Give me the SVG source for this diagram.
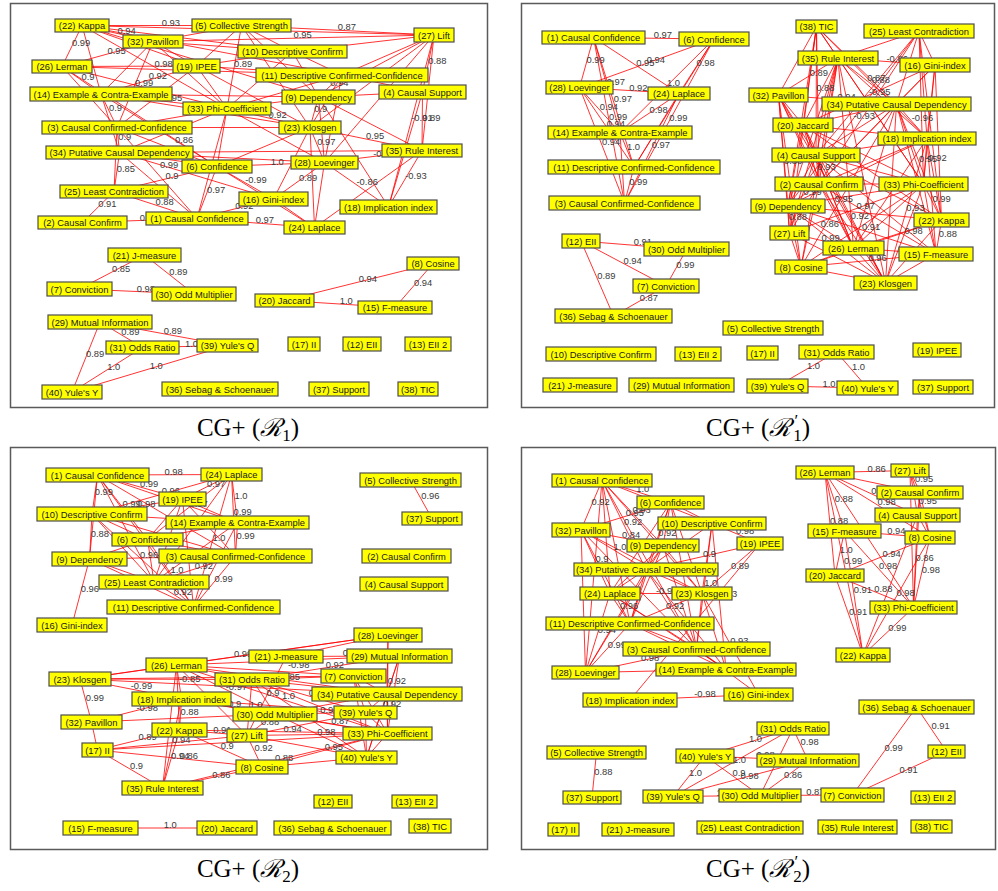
<svg xmlns="http://www.w3.org/2000/svg" width="998" height="891" viewBox="0 0 998 891">
<style>
.f{fill:none;stroke:#5a5a5a;stroke-width:1.5}
.n rect{fill:#ffff00;stroke:#4d4d4d;stroke-width:1.2}
.n text{font-family:"Liberation Sans",Arial,sans-serif;font-size:9.4px;fill:#1a1a1a;text-anchor:middle}
.e line{stroke:#ff0000;stroke-width:0.8}
.l text{font-family:"Liberation Sans",Arial,sans-serif;font-size:9.4px;fill:#3a3a3a}
.cap{font-family:"Liberation Serif","DejaVu Serif",serif;font-size:25px;fill:#000;text-anchor:middle}
</style>
<rect width="998" height="891" fill="#fff"/>
<rect class="f" x="10.5" y="3.5" width="477" height="404"/>
<rect class="f" x="521.5" y="3.5" width="473" height="404"/>
<rect class="f" x="10.5" y="447.5" width="477" height="402"/>
<rect class="f" x="521.5" y="447.5" width="474" height="402"/>

<g id="connectors">
<g id="p1-edges" class="e">
<line x1="82" y1="25.5" x2="241.5" y2="25.5"/><line x1="82" y1="25.5" x2="153" y2="41.5"/><line x1="82" y1="25.5" x2="62" y2="66.5"/><line x1="241.5" y1="25.5" x2="434" y2="35"/><line x1="153" y1="41.5" x2="434" y2="35"/><line x1="62" y1="66.5" x2="153" y2="41.5"/><line x1="434" y1="35" x2="422.5" y2="92"/><line x1="434" y1="35" x2="388.5" y2="207"/><line x1="422.5" y1="92" x2="422" y2="150.5"/><line x1="62" y1="66.5" x2="196.5" y2="66"/><line x1="62" y1="66.5" x2="101" y2="94"/><line x1="153" y1="41.5" x2="101" y2="94"/><line x1="101" y1="94" x2="117" y2="127.5"/><line x1="101" y1="94" x2="227" y2="108.5"/><line x1="101" y1="94" x2="196.5" y2="66"/><line x1="196.5" y1="66" x2="292.5" y2="51.5"/><line x1="292.5" y1="51.5" x2="227" y2="108.5"/><line x1="342" y1="75" x2="318.5" y2="97"/><line x1="318.5" y1="97" x2="310" y2="127.5"/><line x1="227" y1="108.5" x2="310" y2="127.5"/><line x1="227" y1="108.5" x2="119.5" y2="152.5"/><line x1="117" y1="127.5" x2="119.5" y2="152.5"/><line x1="310" y1="127.5" x2="422" y2="150.5"/><line x1="310" y1="127.5" x2="324.5" y2="162.5"/><line x1="119.5" y1="152.5" x2="217" y2="166.5"/><line x1="119.5" y1="152.5" x2="114" y2="191.5"/><line x1="422" y1="150.5" x2="324.5" y2="162.5"/><line x1="422" y1="150.5" x2="388.5" y2="207"/><line x1="217" y1="166.5" x2="324.5" y2="162.5"/><line x1="217" y1="166.5" x2="273.5" y2="199"/><line x1="217" y1="166.5" x2="197" y2="218.5"/><line x1="217" y1="166.5" x2="114" y2="191.5"/><line x1="324.5" y1="162.5" x2="388.5" y2="207"/><line x1="324.5" y1="162.5" x2="273.5" y2="199"/><line x1="273.5" y1="199" x2="197" y2="218.5"/><line x1="114" y1="191.5" x2="82.5" y2="222.5"/><line x1="114" y1="191.5" x2="197" y2="218.5"/><line x1="82.5" y1="222.5" x2="197" y2="218.5"/><line x1="197" y1="218.5" x2="314.5" y2="227.5"/>
<line x1="82" y1="25.5" x2="434" y2="35"/><line x1="82" y1="25.5" x2="196.5" y2="66"/><line x1="82" y1="25.5" x2="227" y2="108.5"/><line x1="82" y1="25.5" x2="318.5" y2="97"/><line x1="82" y1="25.5" x2="342" y2="75"/><line x1="82" y1="25.5" x2="101" y2="94"/><line x1="82" y1="25.5" x2="292.5" y2="51.5"/><line x1="241.5" y1="25.5" x2="153" y2="41.5"/><line x1="241.5" y1="25.5" x2="196.5" y2="66"/><line x1="241.5" y1="25.5" x2="318.5" y2="97"/><line x1="241.5" y1="25.5" x2="292.5" y2="51.5"/><line x1="241.5" y1="25.5" x2="310" y2="127.5"/><line x1="241.5" y1="25.5" x2="227" y2="108.5"/><line x1="434" y1="35" x2="342" y2="75"/><line x1="434" y1="35" x2="318.5" y2="97"/><line x1="434" y1="35" x2="292.5" y2="51.5"/><line x1="434" y1="35" x2="310" y2="127.5"/><line x1="434" y1="35" x2="422" y2="150.5"/><line x1="434" y1="35" x2="324.5" y2="162.5"/><line x1="422.5" y1="92" x2="342" y2="75"/><line x1="422.5" y1="92" x2="318.5" y2="97"/><line x1="62" y1="66.5" x2="117" y2="127.5"/><line x1="62" y1="66.5" x2="227" y2="108.5"/><line x1="62" y1="66.5" x2="342" y2="75"/><line x1="153" y1="41.5" x2="196.5" y2="66"/><line x1="153" y1="41.5" x2="117" y2="127.5"/><line x1="153" y1="41.5" x2="227" y2="108.5"/><line x1="153" y1="41.5" x2="292.5" y2="51.5"/><line x1="101" y1="94" x2="119.5" y2="152.5"/><line x1="101" y1="94" x2="310" y2="127.5"/><line x1="101" y1="94" x2="318.5" y2="97"/><line x1="196.5" y1="66" x2="227" y2="108.5"/><line x1="196.5" y1="66" x2="342" y2="75"/><line x1="196.5" y1="66" x2="117" y2="127.5"/><line x1="196.5" y1="66" x2="310" y2="127.5"/><line x1="292.5" y1="51.5" x2="342" y2="75"/><line x1="292.5" y1="51.5" x2="318.5" y2="97"/><line x1="342" y1="75" x2="227" y2="108.5"/><line x1="342" y1="75" x2="310" y2="127.5"/><line x1="342" y1="75" x2="324.5" y2="162.5"/><line x1="318.5" y1="97" x2="227" y2="108.5"/><line x1="318.5" y1="97" x2="324.5" y2="162.5"/><line x1="318.5" y1="97" x2="422" y2="150.5"/><line x1="227" y1="108.5" x2="117" y2="127.5"/><line x1="227" y1="108.5" x2="217" y2="166.5"/><line x1="227" y1="108.5" x2="324.5" y2="162.5"/><line x1="227" y1="108.5" x2="197" y2="218.5"/><line x1="117" y1="127.5" x2="310" y2="127.5"/><line x1="117" y1="127.5" x2="217" y2="166.5"/><line x1="117" y1="127.5" x2="114" y2="191.5"/><line x1="310" y1="127.5" x2="217" y2="166.5"/><line x1="310" y1="127.5" x2="273.5" y2="199"/><line x1="310" y1="127.5" x2="314.5" y2="227.5"/><line x1="119.5" y1="152.5" x2="422" y2="150.5"/><line x1="119.5" y1="152.5" x2="324.5" y2="162.5"/><line x1="119.5" y1="152.5" x2="197" y2="218.5"/><line x1="119.5" y1="152.5" x2="273.5" y2="199"/><line x1="422" y1="150.5" x2="314.5" y2="227.5"/><line x1="324.5" y1="162.5" x2="314.5" y2="227.5"/><line x1="273.5" y1="199" x2="314.5" y2="227.5"/><line x1="62" y1="66.5" x2="217" y2="166.5"/><line x1="101" y1="94" x2="217" y2="166.5"/><line x1="117" y1="127.5" x2="197" y2="218.5"/><line x1="217" y1="166.5" x2="314.5" y2="227.5"/><line x1="318.5" y1="97" x2="388.5" y2="207"/><line x1="422.5" y1="92" x2="388.5" y2="207"/>
<line x1="144.5" y1="255" x2="79.5" y2="289"/><line x1="144.5" y1="255" x2="194" y2="294"/><line x1="79.5" y1="289" x2="194" y2="294"/><line x1="433" y1="263.5" x2="284.5" y2="300.5"/><line x1="433" y1="263.5" x2="395" y2="307.5"/><line x1="284.5" y1="300.5" x2="395" y2="307.5"/><line x1="100" y1="322" x2="142.5" y2="347.5"/><line x1="100" y1="322" x2="227.5" y2="345.5"/><line x1="100" y1="322" x2="72" y2="392"/><line x1="142.5" y1="347.5" x2="227.5" y2="345.5"/><line x1="142.5" y1="347.5" x2="72" y2="392"/><line x1="227.5" y1="345.5" x2="72" y2="392"/>
</g>
<g id="p1-labels" class="l">
<text x="161.75" y="25.5">0.93</text><text x="117.5" y="33.5">0.94</text><text x="72" y="46">0.99</text><text x="337.75" y="30.25">0.87</text><text x="293.5" y="38.25">0.95</text><text x="107.5" y="54">0.95</text><text x="428.25" y="63.5">0.88</text><text x="411.25" y="121">-0.91</text><text x="422.25" y="121.25">0.89</text><text x="154.5" y="67">0.98</text><text x="81.5" y="80.25">0.9</text><text x="135" y="86">0.99</text><text x="109" y="110.75">0.9</text><text x="164" y="101.25">0.95</text><text x="148.75" y="79">0.92</text><text x="234" y="67">0.89</text><text x="330.25" y="86">0.94</text><text x="314.25" y="112.25">0.9</text><text x="268.5" y="118">0.92</text><text x="175" y="143">0.86</text><text x="118.25" y="140">0.9</text><text x="366" y="139">0.95</text><text x="317.25" y="145">0.97</text><text x="160" y="168">0.99</text><text x="116.75" y="172">0.85</text><text x="373.25" y="156.5">-0.88</text><text x="405.25" y="178.75">-0.93</text><text x="270.75" y="164.5">1.0</text><text x="245.25" y="182.75">-0.99</text><text x="207" y="192.5">0.97</text><text x="165.5" y="179">0.9</text><text x="356.5" y="184.75">-0.86</text><text x="299" y="180.75">0.89</text><text x="235.25" y="208.75">0.92</text><text x="98.25" y="207">0.91</text><text x="155.5" y="205">0.88</text><text x="139.75" y="220.5">0.91</text><text x="255.75" y="223">0.97</text>
<text x="112" y="272">0.85</text><text x="169.25" y="274.5">0.89</text><text x="136.75" y="291.5">0.98</text><text x="358.75" y="282">0.94</text><text x="414" y="285.5">0.94</text><text x="339.75" y="304">1.0</text><text x="121.25" y="334.75">0.89</text><text x="163.75" y="333.75">0.89</text><text x="86" y="357">0.89</text><text x="185" y="346.5">1.0</text><text x="107.25" y="369.75">1.0</text><text x="149.75" y="368.75">1.0</text>
</g>

<g id="p2-edges" class="e">
<line x1="593.5" y1="37.5" x2="714" y2="39"/><line x1="593.5" y1="37.5" x2="679" y2="93.5"/><line x1="579.5" y1="87.5" x2="714" y2="39"/><line x1="714" y1="39" x2="679" y2="93.5"/><line x1="714" y1="39" x2="620" y2="132.5"/><line x1="593.5" y1="37.5" x2="579.5" y2="87.5"/><line x1="593.5" y1="37.5" x2="620" y2="132.5"/><line x1="579.5" y1="87.5" x2="679" y2="93.5"/><line x1="593.5" y1="37.5" x2="634" y2="167"/><line x1="579.5" y1="87.5" x2="620" y2="132.5"/><line x1="593.5" y1="37.5" x2="624.5" y2="203"/><line x1="579.5" y1="87.5" x2="634" y2="167"/><line x1="679" y1="93.5" x2="620" y2="132.5"/><line x1="714" y1="39" x2="624.5" y2="203"/><line x1="679" y1="93.5" x2="624.5" y2="203"/><line x1="620" y1="132.5" x2="634" y2="167"/><line x1="579.5" y1="87.5" x2="624.5" y2="203"/><line x1="634" y1="167" x2="624.5" y2="203"/><line x1="679" y1="93.5" x2="634" y2="167"/><line x1="714" y1="39" x2="634" y2="167"/><line x1="620" y1="132.5" x2="624.5" y2="203"/>
<line x1="581" y1="241" x2="686.5" y2="249.5"/><line x1="581" y1="241" x2="666" y2="286"/><line x1="581" y1="241" x2="613.5" y2="316"/><line x1="686.5" y1="249.5" x2="666" y2="286"/><line x1="666" y1="286" x2="613.5" y2="316"/>
<line x1="836.5" y1="352" x2="777.5" y2="386"/><line x1="836.5" y1="352" x2="867.5" y2="388"/><line x1="777.5" y1="386" x2="867.5" y2="388"/>
<line x1="816.5" y1="26.5" x2="816" y2="155"/><line x1="816.5" y1="26.5" x2="803" y2="125"/><line x1="816.5" y1="26.5" x2="927" y2="138.5"/><line x1="919" y1="31" x2="788" y2="206"/><line x1="838" y1="58" x2="935" y2="65"/><line x1="838" y1="58" x2="896.5" y2="104"/><line x1="935" y1="65" x2="803" y2="125"/><line x1="778.5" y1="95" x2="896.5" y2="104"/><line x1="778.5" y1="95" x2="789.5" y2="233"/><line x1="896.5" y1="104" x2="927" y2="138.5"/><line x1="927" y1="138.5" x2="923.5" y2="184"/><line x1="927" y1="138.5" x2="885.5" y2="283"/><line x1="816" y1="155" x2="819" y2="184"/><line x1="816" y1="155" x2="853.5" y2="248"/><line x1="816" y1="155" x2="885.5" y2="283"/><line x1="819" y1="184" x2="788" y2="206"/><line x1="923.5" y1="184" x2="941.5" y2="220"/><line x1="923.5" y1="184" x2="789.5" y2="233"/><line x1="923.5" y1="184" x2="885.5" y2="283"/><line x1="788" y1="206" x2="853.5" y2="248"/><line x1="788" y1="206" x2="789.5" y2="233"/><line x1="788" y1="206" x2="936" y2="254"/><line x1="941.5" y1="220" x2="936" y2="254"/><line x1="789.5" y1="233" x2="853.5" y2="248"/><line x1="936" y1="254" x2="801" y2="267"/><line x1="896.5" y1="104" x2="941.5" y2="220"/>
<line x1="816.5" y1="26.5" x2="838" y2="58"/><line x1="816.5" y1="26.5" x2="778.5" y2="95"/><line x1="816.5" y1="26.5" x2="819" y2="184"/><line x1="816.5" y1="26.5" x2="788" y2="206"/><line x1="816.5" y1="26.5" x2="896.5" y2="104"/><line x1="816.5" y1="26.5" x2="923.5" y2="184"/><line x1="816.5" y1="26.5" x2="789.5" y2="233"/><line x1="919" y1="31" x2="838" y2="58"/><line x1="919" y1="31" x2="935" y2="65"/><line x1="919" y1="31" x2="896.5" y2="104"/><line x1="919" y1="31" x2="927" y2="138.5"/><line x1="919" y1="31" x2="923.5" y2="184"/><line x1="919" y1="31" x2="816" y2="155"/><line x1="919" y1="31" x2="819" y2="184"/><line x1="919" y1="31" x2="941.5" y2="220"/><line x1="838" y1="58" x2="778.5" y2="95"/><line x1="838" y1="58" x2="803" y2="125"/><line x1="838" y1="58" x2="816" y2="155"/><line x1="838" y1="58" x2="819" y2="184"/><line x1="838" y1="58" x2="923.5" y2="184"/><line x1="838" y1="58" x2="788" y2="206"/><line x1="838" y1="58" x2="789.5" y2="233"/><line x1="838" y1="58" x2="853.5" y2="248"/><line x1="838" y1="58" x2="885.5" y2="283"/><line x1="838" y1="58" x2="927" y2="138.5"/><line x1="838" y1="58" x2="801" y2="267"/><line x1="935" y1="65" x2="896.5" y2="104"/><line x1="935" y1="65" x2="927" y2="138.5"/><line x1="935" y1="65" x2="923.5" y2="184"/><line x1="935" y1="65" x2="941.5" y2="220"/><line x1="935" y1="65" x2="819" y2="184"/><line x1="778.5" y1="95" x2="803" y2="125"/><line x1="778.5" y1="95" x2="816" y2="155"/><line x1="778.5" y1="95" x2="819" y2="184"/><line x1="778.5" y1="95" x2="788" y2="206"/><line x1="778.5" y1="95" x2="801" y2="267"/><line x1="778.5" y1="95" x2="853.5" y2="248"/><line x1="778.5" y1="95" x2="885.5" y2="283"/><line x1="896.5" y1="104" x2="803" y2="125"/><line x1="896.5" y1="104" x2="816" y2="155"/><line x1="896.5" y1="104" x2="819" y2="184"/><line x1="896.5" y1="104" x2="923.5" y2="184"/><line x1="896.5" y1="104" x2="853.5" y2="248"/><line x1="896.5" y1="104" x2="885.5" y2="283"/><line x1="896.5" y1="104" x2="936" y2="254"/><line x1="896.5" y1="104" x2="801" y2="267"/><line x1="803" y1="125" x2="816" y2="155"/><line x1="803" y1="125" x2="819" y2="184"/><line x1="803" y1="125" x2="923.5" y2="184"/><line x1="803" y1="125" x2="788" y2="206"/><line x1="803" y1="125" x2="927" y2="138.5"/><line x1="803" y1="125" x2="853.5" y2="248"/><line x1="803" y1="125" x2="885.5" y2="283"/><line x1="803" y1="125" x2="941.5" y2="220"/><line x1="927" y1="138.5" x2="816" y2="155"/><line x1="927" y1="138.5" x2="819" y2="184"/><line x1="927" y1="138.5" x2="941.5" y2="220"/><line x1="927" y1="138.5" x2="936" y2="254"/><line x1="927" y1="138.5" x2="853.5" y2="248"/><line x1="927" y1="138.5" x2="788" y2="206"/><line x1="816" y1="155" x2="923.5" y2="184"/><line x1="816" y1="155" x2="788" y2="206"/><line x1="816" y1="155" x2="936" y2="254"/><line x1="816" y1="155" x2="789.5" y2="233"/><line x1="816" y1="155" x2="941.5" y2="220"/><line x1="819" y1="184" x2="923.5" y2="184"/><line x1="819" y1="184" x2="853.5" y2="248"/><line x1="819" y1="184" x2="885.5" y2="283"/><line x1="819" y1="184" x2="936" y2="254"/><line x1="819" y1="184" x2="801" y2="267"/><line x1="819" y1="184" x2="789.5" y2="233"/><line x1="923.5" y1="184" x2="853.5" y2="248"/><line x1="923.5" y1="184" x2="936" y2="254"/><line x1="923.5" y1="184" x2="801" y2="267"/><line x1="923.5" y1="184" x2="788" y2="206"/><line x1="788" y1="206" x2="885.5" y2="283"/><line x1="788" y1="206" x2="941.5" y2="220"/><line x1="788" y1="206" x2="801" y2="267"/><line x1="941.5" y1="220" x2="853.5" y2="248"/><line x1="941.5" y1="220" x2="885.5" y2="283"/><line x1="941.5" y1="220" x2="801" y2="267"/><line x1="789.5" y1="233" x2="801" y2="267"/><line x1="789.5" y1="233" x2="885.5" y2="283"/><line x1="853.5" y1="248" x2="936" y2="254"/><line x1="853.5" y1="248" x2="885.5" y2="283"/><line x1="853.5" y1="248" x2="801" y2="267"/><line x1="936" y1="254" x2="885.5" y2="283"/><line x1="801" y1="267" x2="885.5" y2="283"/>
</g>
<g id="p2-labels" class="l">
<text x="653.75" y="38.25">0.97</text><text x="636.25" y="65.5">0.95</text><text x="646.75" y="63.25">0.94</text><text x="696.5" y="66.25">0.98</text><text x="667" y="85.75">1.0</text><text x="586.5" y="62.5">0.99</text><text x="606.75" y="85">0.97</text><text x="629.25" y="90.5">0.92</text><text x="613.75" y="102.25">0.97</text><text x="599.75" y="110">0.94</text><text x="609" y="120.25">0.99</text><text x="606.75" y="127.25">0.94</text><text x="649.5" y="113">0.98</text><text x="669.25" y="121">0.99</text><text x="651.75" y="148.25">0.97</text><text x="627" y="149.75">1.0</text><text x="602" y="145.25">0.94</text><text x="629.25" y="185">0.99</text>
<text x="633.75" y="245.25">0.91</text><text x="623.5" y="263.5">0.94</text><text x="597.25" y="278.5">0.89</text><text x="676.25" y="267.75">0.99</text><text x="639.75" y="301">0.87</text>
<text x="807" y="369">1.0</text><text x="852" y="370">1.0</text><text x="822.5" y="387">1.0</text>
<text x="816.25" y="90.75">0.88</text><text x="809.75" y="75.75">0.89</text><text x="871.75" y="82.5">0.88</text><text x="853.5" y="118.5">-0.93</text><text x="886.5" y="61.5">-0.86</text><text x="867.25" y="81">0.87</text><text x="869" y="95">-0.95</text><text x="837.5" y="99.5">0.94</text><text x="784" y="164">0.88</text><text x="911.75" y="121.25">-0.96</text><text x="925.25" y="161.25">-0.92</text><text x="906.25" y="210.75">0.93</text><text x="817.5" y="169.5">0.93</text><text x="834.75" y="201.5">0.95</text><text x="850.75" y="219">0.92</text><text x="803.5" y="195">0.99</text><text x="932.5" y="202">0.99</text><text x="856.5" y="208.5">0.97</text><text x="904.5" y="233.5">0.98</text><text x="820.75" y="227">0.86</text><text x="788.75" y="219.5">0.88</text><text x="862" y="230">0.91</text><text x="938.75" y="237">0.88</text><text x="821.5" y="240.5">0.99</text><text x="868.5" y="260.5">0.96</text><text x="919" y="162">0.95</text>
</g>

<g id="p3-edges" class="e">
<line x1="97.5" y1="475" x2="231.5" y2="474.5"/><line x1="97.5" y1="475" x2="182.5" y2="499"/><line x1="97.5" y1="475" x2="92" y2="514"/><line x1="231.5" y1="474.5" x2="92" y2="514"/><line x1="231.5" y1="474.5" x2="182.5" y2="499"/><line x1="231.5" y1="474.5" x2="237.5" y2="522.5"/><line x1="231.5" y1="474.5" x2="147.5" y2="539.5"/><line x1="231.5" y1="474.5" x2="235.5" y2="556"/><line x1="237.5" y1="522.5" x2="235.5" y2="556"/><line x1="231.5" y1="474.5" x2="193.5" y2="607"/><line x1="92" y1="514" x2="89.5" y2="559"/><line x1="92" y1="514" x2="182.5" y2="499"/><line x1="97.5" y1="475" x2="147.5" y2="539.5"/><line x1="89.5" y1="559" x2="72" y2="625"/><line x1="154" y1="582" x2="193.5" y2="607"/><line x1="235.5" y1="556" x2="193.5" y2="607"/><line x1="235.5" y1="556" x2="154" y2="582"/><line x1="147.5" y1="539.5" x2="193.5" y2="607"/><line x1="89.5" y1="559" x2="235.5" y2="556"/>
<line x1="97.5" y1="475" x2="237.5" y2="522.5"/><line x1="97.5" y1="475" x2="235.5" y2="556"/><line x1="97.5" y1="475" x2="89.5" y2="559"/><line x1="97.5" y1="475" x2="154" y2="582"/><line x1="97.5" y1="475" x2="193.5" y2="607"/><line x1="182.5" y1="499" x2="237.5" y2="522.5"/><line x1="182.5" y1="499" x2="147.5" y2="539.5"/><line x1="182.5" y1="499" x2="235.5" y2="556"/><line x1="182.5" y1="499" x2="154" y2="582"/><line x1="182.5" y1="499" x2="193.5" y2="607"/><line x1="92" y1="514" x2="237.5" y2="522.5"/><line x1="92" y1="514" x2="147.5" y2="539.5"/><line x1="92" y1="514" x2="235.5" y2="556"/><line x1="92" y1="514" x2="154" y2="582"/><line x1="92" y1="514" x2="193.5" y2="607"/><line x1="237.5" y1="522.5" x2="147.5" y2="539.5"/><line x1="237.5" y1="522.5" x2="154" y2="582"/><line x1="237.5" y1="522.5" x2="193.5" y2="607"/><line x1="147.5" y1="539.5" x2="235.5" y2="556"/><line x1="147.5" y1="539.5" x2="89.5" y2="559"/><line x1="147.5" y1="539.5" x2="154" y2="582"/><line x1="89.5" y1="559" x2="154" y2="582"/><line x1="89.5" y1="559" x2="193.5" y2="607"/><line x1="231.5" y1="474.5" x2="154" y2="582"/>
<line x1="410.5" y1="480" x2="432" y2="518.5"/>
<line x1="80" y1="679" x2="388" y2="635"/><line x1="286" y1="656.5" x2="399.5" y2="656"/><line x1="176.5" y1="665" x2="399.5" y2="656"/><line x1="252" y1="679.5" x2="399.5" y2="656"/><line x1="388" y1="635" x2="387.5" y2="733.5"/><line x1="80" y1="679" x2="181.5" y2="699"/><line x1="176.5" y1="665" x2="181.5" y2="699"/><line x1="176.5" y1="665" x2="387" y2="694"/><line x1="176.5" y1="665" x2="275" y2="714"/><line x1="80" y1="679" x2="91.5" y2="722"/><line x1="181.5" y1="699" x2="91.5" y2="722"/><line x1="275" y1="714" x2="365.5" y2="712.5"/><line x1="275" y1="714" x2="387.5" y2="733.5"/><line x1="179.5" y1="730" x2="387.5" y2="733.5"/><line x1="247" y1="735.5" x2="387.5" y2="733.5"/><line x1="179.5" y1="730" x2="247" y2="735.5"/><line x1="97.5" y1="750" x2="179.5" y2="730"/><line x1="97.5" y1="750" x2="247" y2="735.5"/><line x1="179.5" y1="730" x2="262" y2="767"/><line x1="247" y1="735.5" x2="262" y2="767"/><line x1="262" y1="767" x2="387.5" y2="733.5"/><line x1="162.5" y1="788" x2="387.5" y2="733.5"/><line x1="97.5" y1="750" x2="262" y2="767"/><line x1="179.5" y1="730" x2="162.5" y2="788"/><line x1="97.5" y1="750" x2="162.5" y2="788"/><line x1="162.5" y1="788" x2="262" y2="767"/><line x1="252" y1="679.5" x2="247" y2="735.5"/><line x1="181.5" y1="699" x2="275" y2="714"/><line x1="275" y1="714" x2="247" y2="735.5"/><line x1="181.5" y1="699" x2="179.5" y2="730"/><line x1="286" y1="656.5" x2="247" y2="735.5"/><line x1="176.5" y1="665" x2="387.5" y2="733.5"/><line x1="399.5" y1="656" x2="366.5" y2="757.5"/><line x1="252" y1="679.5" x2="365.5" y2="712.5"/>
<line x1="286" y1="656.5" x2="388" y2="635"/><line x1="176.5" y1="665" x2="388" y2="635"/><line x1="80" y1="679" x2="176.5" y2="665"/><line x1="80" y1="679" x2="252" y2="679.5"/><line x1="80" y1="679" x2="353.5" y2="676"/><line x1="80" y1="679" x2="387" y2="694"/><line x1="176.5" y1="665" x2="252" y2="679.5"/><line x1="176.5" y1="665" x2="353.5" y2="676"/><line x1="176.5" y1="665" x2="247" y2="735.5"/><line x1="176.5" y1="665" x2="162.5" y2="788"/><line x1="176.5" y1="665" x2="179.5" y2="730"/><line x1="181.5" y1="699" x2="162.5" y2="788"/><line x1="252" y1="679.5" x2="353.5" y2="676"/><line x1="252" y1="679.5" x2="387" y2="694"/><line x1="252" y1="679.5" x2="275" y2="714"/><line x1="252" y1="679.5" x2="366.5" y2="757.5"/><line x1="252" y1="679.5" x2="387.5" y2="733.5"/><line x1="353.5" y1="676" x2="387" y2="694"/><line x1="353.5" y1="676" x2="365.5" y2="712.5"/><line x1="353.5" y1="676" x2="387.5" y2="733.5"/><line x1="353.5" y1="676" x2="366.5" y2="757.5"/><line x1="399.5" y1="656" x2="387" y2="694"/><line x1="399.5" y1="656" x2="387.5" y2="733.5"/><line x1="388" y1="635" x2="387" y2="694"/><line x1="387" y1="694" x2="365.5" y2="712.5"/><line x1="387" y1="694" x2="366.5" y2="757.5"/><line x1="387" y1="694" x2="387.5" y2="733.5"/><line x1="365.5" y1="712.5" x2="387.5" y2="733.5"/><line x1="365.5" y1="712.5" x2="366.5" y2="757.5"/><line x1="387.5" y1="733.5" x2="366.5" y2="757.5"/><line x1="91.5" y1="722" x2="97.5" y2="750"/><line x1="91.5" y1="722" x2="275" y2="714"/><line x1="97.5" y1="750" x2="387.5" y2="733.5"/><line x1="247" y1="735.5" x2="366.5" y2="757.5"/><line x1="247" y1="735.5" x2="365.5" y2="712.5"/><line x1="275" y1="714" x2="366.5" y2="757.5"/><line x1="275" y1="714" x2="387" y2="694"/><line x1="262" y1="767" x2="366.5" y2="757.5"/><line x1="181.5" y1="699" x2="365.5" y2="712.5"/><line x1="181.5" y1="699" x2="387.5" y2="733.5"/>
<line x1="100.5" y1="828" x2="227" y2="828"/>
</g>
<g id="p3-labels" class="l">
<text x="164.5" y="474.75">0.98</text><text x="140" y="487">0.99</text><text x="94.75" y="494.5">0.99</text><text x="161.75" y="494.25">0.96</text><text x="207" y="486.75">0.97</text><text x="234.5" y="498.5">1.0</text><text x="189.5" y="507">0.97</text><text x="233.5" y="515.25">0.99</text><text x="236.5" y="539.25">0.99</text><text x="212.5" y="540.75">1.0</text><text x="90.75" y="536.5">0.88</text><text x="137.25" y="506.5">0.98</text><text x="122.5" y="507.25">0.99</text><text x="80.75" y="592">0.96</text><text x="173.75" y="594.5">0.92</text><text x="214.5" y="581.5">0.99</text><text x="194.75" y="569">0.92</text><text x="170.5" y="573.25">1.0</text><text x="140" y="557.5">0.96</text>
<text x="421.25" y="499.25">0.96</text>
<text x="234" y="657">0.99</text><text x="342.75" y="656.25">0.99</text><text x="288" y="668">-0.98</text><text x="325.75" y="667.75">0.92</text><text x="387.75" y="684.25">0.92</text><text x="130.75" y="689">-0.99</text><text x="179" y="682">-0.85</text><text x="281.75" y="679.5">0.85</text><text x="225.75" y="689.5">-0.97</text><text x="85.75" y="700.5">0.99</text><text x="136.5" y="710.5">-0.98</text><text x="320.25" y="713.25">0.9</text><text x="331.25" y="723.75">0.87</text><text x="283.5" y="731.75">0.94</text><text x="317.25" y="734.5">0.98</text><text x="213.25" y="732.75">0.91</text><text x="138.5" y="740">0.89</text><text x="172.25" y="742.75">0.94</text><text x="220.75" y="748.5">0.9</text><text x="254.5" y="751.25">0.92</text><text x="324.75" y="750.25">0.95</text><text x="275" y="760.75">0.88</text><text x="179.75" y="758.5">0.86</text><text x="171" y="759">0.94</text><text x="130" y="769">0.9</text><text x="212.25" y="777.5">0.86</text><text x="249.5" y="707.5">1.0</text><text x="228.25" y="706.5">0.9</text><text x="261" y="724.75">0.88</text><text x="180.5" y="714.5">0.88</text><text x="266.5" y="696">0.9</text><text x="282" y="699.25">1.0</text><text x="383" y="706.75">0.92</text><text x="308.75" y="696">0.98</text>
<text x="163.75" y="828">1.0</text>
</g>

<g id="p4-edges" class="e">
<line x1="825" y1="472.5" x2="910" y2="470.5"/><line x1="910" y1="470.5" x2="920" y2="492.5"/><line x1="920" y1="492.5" x2="917.5" y2="515"/><line x1="825" y1="472.5" x2="930" y2="537.5"/><line x1="825" y1="472.5" x2="844.5" y2="531"/><line x1="825" y1="472.5" x2="835" y2="575.5"/><line x1="844.5" y1="531" x2="930" y2="537.5"/><line x1="825" y1="472.5" x2="917.5" y2="515"/><line x1="844.5" y1="531" x2="835" y2="575.5"/><line x1="825" y1="472.5" x2="863" y2="655"/><line x1="835" y1="575.5" x2="930" y2="537.5"/><line x1="844.5" y1="531" x2="913.5" y2="607.5"/><line x1="917.5" y1="515" x2="913.5" y2="607.5"/><line x1="930" y1="537.5" x2="913.5" y2="607.5"/><line x1="844.5" y1="531" x2="863" y2="655"/><line x1="835" y1="575.5" x2="913.5" y2="607.5"/><line x1="930" y1="537.5" x2="863" y2="655"/><line x1="835" y1="575.5" x2="863" y2="655"/><line x1="913.5" y1="607.5" x2="863" y2="655"/>
<line x1="910" y1="470.5" x2="917.5" y2="515"/><line x1="910" y1="470.5" x2="930" y2="537.5"/><line x1="910" y1="470.5" x2="913.5" y2="607.5"/><line x1="920" y1="492.5" x2="913.5" y2="607.5"/><line x1="920" y1="492.5" x2="930" y2="537.5"/><line x1="825" y1="472.5" x2="913.5" y2="607.5"/><line x1="825" y1="472.5" x2="920" y2="492.5"/><line x1="917.5" y1="515" x2="930" y2="537.5"/><line x1="917.5" y1="515" x2="863" y2="655"/>
<line x1="602" y1="480.5" x2="670.5" y2="502.5"/><line x1="602" y1="480.5" x2="581" y2="530"/><line x1="602" y1="480.5" x2="663" y2="545.5"/><line x1="602" y1="480.5" x2="646" y2="569.5"/><line x1="670.5" y1="502.5" x2="581" y2="530"/><line x1="670.5" y1="502.5" x2="646" y2="569.5"/><line x1="581" y1="530" x2="663" y2="545.5"/><line x1="581" y1="530" x2="646" y2="569.5"/><line x1="581" y1="530" x2="610" y2="593.5"/><line x1="760" y1="543.5" x2="646" y2="569.5"/><line x1="760" y1="543.5" x2="702" y2="593.5"/><line x1="712" y1="523.5" x2="760" y2="543.5"/><line x1="712" y1="523.5" x2="696.5" y2="649"/><line x1="610" y1="593.5" x2="702" y2="593.5"/><line x1="702" y1="593.5" x2="630" y2="623.5"/><line x1="610" y1="593.5" x2="630" y2="623.5"/><line x1="702" y1="593.5" x2="758.5" y2="694.5"/><line x1="630" y1="623.5" x2="585.5" y2="672.5"/><line x1="610" y1="593.5" x2="585.5" y2="672.5"/><line x1="585.5" y1="672.5" x2="696.5" y2="649"/><line x1="630" y1="700" x2="758.5" y2="694.5"/><line x1="712" y1="523.5" x2="726" y2="669.5"/>
<line x1="602" y1="480.5" x2="712" y2="523.5"/><line x1="602" y1="480.5" x2="610" y2="593.5"/><line x1="602" y1="480.5" x2="630" y2="623.5"/><line x1="602" y1="480.5" x2="585.5" y2="672.5"/><line x1="602" y1="480.5" x2="702" y2="593.5"/><line x1="602" y1="480.5" x2="696.5" y2="649"/><line x1="670.5" y1="502.5" x2="712" y2="523.5"/><line x1="670.5" y1="502.5" x2="610" y2="593.5"/><line x1="670.5" y1="502.5" x2="702" y2="593.5"/><line x1="670.5" y1="502.5" x2="696.5" y2="649"/><line x1="670.5" y1="502.5" x2="630" y2="623.5"/><line x1="670.5" y1="502.5" x2="663" y2="545.5"/><line x1="712" y1="523.5" x2="646" y2="569.5"/><line x1="712" y1="523.5" x2="702" y2="593.5"/><line x1="581" y1="530" x2="630" y2="623.5"/><line x1="581" y1="530" x2="585.5" y2="672.5"/><line x1="581" y1="530" x2="696.5" y2="649"/><line x1="581" y1="530" x2="702" y2="593.5"/><line x1="663" y1="545.5" x2="610" y2="593.5"/><line x1="663" y1="545.5" x2="702" y2="593.5"/><line x1="663" y1="545.5" x2="630" y2="623.5"/><line x1="663" y1="545.5" x2="696.5" y2="649"/><line x1="663" y1="545.5" x2="585.5" y2="672.5"/><line x1="663" y1="545.5" x2="646" y2="569.5"/><line x1="646" y1="569.5" x2="610" y2="593.5"/><line x1="646" y1="569.5" x2="702" y2="593.5"/><line x1="646" y1="569.5" x2="630" y2="623.5"/><line x1="646" y1="569.5" x2="696.5" y2="649"/><line x1="646" y1="569.5" x2="585.5" y2="672.5"/><line x1="646" y1="569.5" x2="726" y2="669.5"/><line x1="610" y1="593.5" x2="696.5" y2="649"/><line x1="610" y1="593.5" x2="726" y2="669.5"/><line x1="702" y1="593.5" x2="696.5" y2="649"/><line x1="702" y1="593.5" x2="726" y2="669.5"/><line x1="630" y1="623.5" x2="696.5" y2="649"/><line x1="630" y1="623.5" x2="726" y2="669.5"/><line x1="696.5" y1="649" x2="726" y2="669.5"/><line x1="696.5" y1="649" x2="758.5" y2="694.5"/><line x1="585.5" y1="672.5" x2="726" y2="669.5"/><line x1="630" y1="700" x2="760" y2="543.5"/>
<line x1="916.5" y1="707" x2="946.5" y2="751.5"/><line x1="916.5" y1="707" x2="852.5" y2="795"/><line x1="946.5" y1="751.5" x2="852.5" y2="795"/><line x1="596.5" y1="752.5" x2="592" y2="797.5"/><line x1="793" y1="728.5" x2="705" y2="756"/><line x1="793" y1="728.5" x2="808" y2="760.5"/><line x1="705" y1="756" x2="808" y2="760.5"/><line x1="793" y1="728.5" x2="673" y2="796.5"/><line x1="705" y1="756" x2="673" y2="796.5"/><line x1="705" y1="756" x2="760" y2="795.5"/><line x1="808" y1="760.5" x2="673" y2="796.5"/><line x1="808" y1="760.5" x2="760" y2="795.5"/><line x1="760" y1="795.5" x2="852.5" y2="795"/><line x1="793" y1="728.5" x2="760" y2="795.5"/><line x1="673" y1="796.5" x2="760" y2="795.5"/>
</g>
<g id="p4-labels" class="l">
<text x="867.5" y="471.5">0.86</text><text x="915" y="481.5">0.95</text><text x="918.75" y="503.75">0.95</text><text x="877.5" y="505">0.98</text><text x="834.75" y="501.75">0.88</text><text x="830" y="524">0.88</text><text x="887.25" y="534.25">0.94</text><text x="871.25" y="493.75">0.98</text><text x="839.75" y="553.25">1.0</text><text x="844" y="563.75">0.99</text><text x="882.5" y="556.5">0.94</text><text x="879" y="569.25">0.98</text><text x="915.5" y="561.25">0.86</text><text x="921.75" y="572.5">0.98</text><text x="853.75" y="593">0.91</text><text x="874.25" y="591.5">0.88</text><text x="896.5" y="596.25">0.98</text><text x="849" y="615.25">0.91</text><text x="888.25" y="631.25">0.99</text>
<text x="636.25" y="491.5">1.0</text><text x="591.5" y="505.25">0.92</text><text x="632.5" y="513">0.93</text><text x="624" y="525">0.92</text><text x="625.75" y="516.25">0.95</text><text x="658.25" y="536">0.92</text><text x="622" y="537.75">0.84</text><text x="613.5" y="549.75">1.0</text><text x="595.5" y="561.75">0.9</text><text x="703" y="556.5">0.9</text><text x="731" y="568.5">0.89</text><text x="736" y="533.5">0.98</text><text x="704.25" y="586.25">1.0</text><text x="656" y="593.5">-0.93</text><text x="666" y="608.5">0.92</text><text x="620" y="608.5">0.96</text><text x="730.25" y="644">0.93</text><text x="607.75" y="648">0.99</text><text x="597.75" y="633">0.94</text><text x="641" y="660.75">0.98</text><text x="694.25" y="697.25">-0.98</text><text x="719" y="596.5">0.93</text>
<text x="931.5" y="729.25">0.91</text><text x="884.5" y="751">0.99</text><text x="899.5" y="773.25">0.91</text><text x="594.25" y="775">0.88</text><text x="749" y="742.25">1.0</text><text x="800.5" y="744.5">0.98</text><text x="756.5" y="758.25">0.98</text><text x="733" y="762.5">1.0</text><text x="689" y="776.25">1.0</text><text x="732.5" y="775.75">0.9</text><text x="740.5" y="778.5">0.98</text><text x="784" y="778">0.86</text><text x="806.25" y="795.25">0.87</text><text x="716.5" y="796">1.0</text>
</g>
</g>

<g id="p1-nodes" class="n">
<g id="p1-n22"><rect x="55" y="19" width="54" height="13"/><text x="82" y="29">(22) Kappa</text></g>
<g id="p1-n5"><rect x="192" y="19" width="99" height="13"/><text x="241.5" y="29">(5) Collective Strength</text></g>
<g id="p1-n27"><rect x="414" y="28" width="40" height="14"/><text x="434" y="38.5">(27) Lift</text></g>
<g id="p1-n32"><rect x="123" y="35" width="60" height="13"/><text x="153" y="45">(32) Pavillon</text></g>
<g id="p1-n10"><rect x="238" y="45" width="109" height="13"/><text x="292.5" y="55">(10) Descriptive Confirm</text></g>
<g id="p1-n26"><rect x="32" y="60" width="60" height="13"/><text x="62" y="70">(26) Lerman</text></g>
<g id="p1-n19"><rect x="173" y="59" width="47" height="14"/><text x="196.5" y="69.5">(19) IPEE</text></g>
<g id="p1-n11"><rect x="256" y="68" width="172" height="14"/><text x="342" y="78.5">(11) Descriptive Confirmed-Confidence</text></g>
<g id="p1-n14"><rect x="30" y="87" width="142" height="14"/><text x="101" y="97.5">(14) Example &amp; Contra-Example</text></g>
<g id="p1-n4"><rect x="379" y="85" width="87" height="14"/><text x="422.5" y="95.5">(4) Causal Support</text></g>
<g id="p1-n9"><rect x="282" y="90" width="73" height="14"/><text x="318.5" y="100.5">(9) Dependency</text></g>
<g id="p1-n33"><rect x="183" y="102" width="88" height="13"/><text x="227" y="112">(33) Phi-Coefficient</text></g>
<g id="p1-n3"><rect x="42" y="121" width="150" height="13"/><text x="117" y="131">(3) Causal Confirmed-Confidence</text></g>
<g id="p1-n23"><rect x="279" y="121" width="62" height="13"/><text x="310" y="131">(23) Klosgen</text></g>
<g id="p1-n34"><rect x="46" y="146" width="147" height="13"/><text x="119.5" y="156">(34) Putative Causal Dependency</text></g>
<g id="p1-n35"><rect x="382" y="144" width="80" height="13"/><text x="422" y="154">(35) Rule Interest</text></g>
<g id="p1-n6"><rect x="182" y="160" width="70" height="13"/><text x="217" y="170">(6) Confidence</text></g>
<g id="p1-n28"><rect x="291" y="156" width="67" height="13"/><text x="324.5" y="166">(28) Loevinger</text></g>
<g id="p1-n25"><rect x="60" y="185" width="108" height="13"/><text x="114" y="195">(25) Least Contradiction</text></g>
<g id="p1-n16"><rect x="239" y="192" width="69" height="14"/><text x="273.5" y="202.5">(16) Gini-index</text></g>
<g id="p1-n18"><rect x="340" y="200" width="97" height="14"/><text x="388.5" y="210.5">(18) Implication index</text></g>
<g id="p1-n2"><rect x="38" y="216" width="89" height="13"/><text x="82.5" y="226">(2) Causal Confirm</text></g>
<g id="p1-n1"><rect x="146" y="212" width="102" height="13"/><text x="197" y="222">(1) Causal Confidence</text></g>
<g id="p1-n24"><rect x="284" y="221" width="61" height="13"/><text x="314.5" y="231">(24) Laplace</text></g>
<g id="p1-n21"><rect x="108" y="248" width="73" height="14"/><text x="144.5" y="258.5">(21) J-measure</text></g>
<g id="p1-n8"><rect x="407" y="257" width="52" height="13"/><text x="433" y="267">(8) Cosine</text></g>
<g id="p1-n7"><rect x="47" y="282" width="65" height="14"/><text x="79.5" y="292.5">(7) Conviction</text></g>
<g id="p1-n30"><rect x="152" y="287" width="84" height="14"/><text x="194" y="297.5">(30) Odd Multiplier</text></g>
<g id="p1-n20"><rect x="255" y="294" width="59" height="13"/><text x="284.5" y="304">(20) Jaccard</text></g>
<g id="p1-n15"><rect x="358" y="301" width="74" height="13"/><text x="395" y="311">(15) F-measure</text></g>
<g id="p1-n29"><rect x="48" y="315" width="104" height="14"/><text x="100" y="325.5">(29) Mutual Information</text></g>
<g id="p1-n31"><rect x="106" y="341" width="73" height="13"/><text x="142.5" y="351">(31) Odds Ratio</text></g>
<g id="p1-n39"><rect x="197" y="339" width="61" height="13"/><text x="227.5" y="349">(39) Yule's Q</text></g>
<g id="p1-n17"><rect x="288" y="337" width="32" height="14"/><text x="304" y="347.5">(17) II</text></g>
<g id="p1-n12"><rect x="343" y="337" width="38" height="14"/><text x="362" y="347.5">(12) EII</text></g>
<g id="p1-n13"><rect x="405" y="337" width="46" height="14"/><text x="428" y="347.5">(13) EII 2</text></g>
<g id="p1-n40"><rect x="42" y="385" width="60" height="14"/><text x="72" y="395.5">(40) Yule's Y</text></g>
<g id="p1-n36"><rect x="162" y="382" width="116" height="14"/><text x="220" y="392.5">(36) Sebag &amp; Schoenauer</text></g>
<g id="p1-n37"><rect x="309" y="382" width="60" height="14"/><text x="339" y="392.5">(37) Support</text></g>
<g id="p1-n38"><rect x="398" y="382" width="40" height="14"/><text x="418" y="392.5">(38) TIC</text></g>
</g>

<g id="p2-nodes" class="n">
<g id="p2-n1"><rect x="542" y="31" width="103" height="13"/><text x="593.5" y="41">(1) Causal Confidence</text></g>
<g id="p2-n6"><rect x="679" y="32" width="70" height="14"/><text x="714" y="42.5">(6) Confidence</text></g>
<g id="p2-n38"><rect x="796" y="20" width="41" height="13"/><text x="816.5" y="30">(38) TIC</text></g>
<g id="p2-n25"><rect x="864" y="24" width="110" height="14"/><text x="919" y="34.5">(25) Least Contradiction</text></g>
<g id="p2-n35"><rect x="798" y="51" width="80" height="14"/><text x="838" y="61.5">(35) Rule Interest</text></g>
<g id="p2-n16"><rect x="900" y="58" width="70" height="14"/><text x="935" y="68.5">(16) Gini-index</text></g>
<g id="p2-n28"><rect x="546" y="81" width="67" height="13"/><text x="579.5" y="91">(28) Loevinger</text></g>
<g id="p2-n24"><rect x="648" y="87" width="62" height="13"/><text x="679" y="97">(24) Laplace</text></g>
<g id="p2-n32"><rect x="749" y="88" width="59" height="14"/><text x="778.5" y="98.5">(32) Pavillon</text></g>
<g id="p2-n34"><rect x="822" y="97" width="149" height="14"/><text x="896.5" y="107.5">(34) Putative Causal Dependency</text></g>
<g id="p2-n14"><rect x="548" y="126" width="144" height="13"/><text x="620" y="136">(14) Example &amp; Contra-Example</text></g>
<g id="p2-n20"><rect x="773" y="118" width="60" height="14"/><text x="803" y="128.5">(20) Jaccard</text></g>
<g id="p2-n18"><rect x="878" y="132" width="98" height="13"/><text x="927" y="142">(18) Implication index</text></g>
<g id="p2-n4"><rect x="772" y="148" width="88" height="14"/><text x="816" y="158.5">(4) Causal Support</text></g>
<g id="p2-n11"><rect x="548" y="160" width="172" height="14"/><text x="634" y="170.5">(11) Descriptive Confirmed-Confidence</text></g>
<g id="p2-n2"><rect x="775" y="177" width="88" height="14"/><text x="819" y="187.5">(2) Causal Confirm</text></g>
<g id="p2-n33"><rect x="879" y="177" width="89" height="14"/><text x="923.5" y="187.5">(33) Phi-Coefficient</text></g>
<g id="p2-n3"><rect x="549" y="196" width="151" height="14"/><text x="624.5" y="206.5">(3) Causal Confirmed-Confidence</text></g>
<g id="p2-n9"><rect x="751" y="199" width="74" height="14"/><text x="788" y="209.5">(9) Dependency</text></g>
<g id="p2-n22"><rect x="914" y="213" width="55" height="14"/><text x="941.5" y="223.5">(22) Kappa</text></g>
<g id="p2-n27"><rect x="770" y="226" width="39" height="14"/><text x="789.5" y="236.5">(27) Lift</text></g>
<g id="p2-n26"><rect x="823" y="241" width="61" height="14"/><text x="853.5" y="251.5">(26) Lerman</text></g>
<g id="p2-n15"><rect x="899" y="247" width="74" height="14"/><text x="936" y="257.5">(15) F-measure</text></g>
<g id="p2-n12"><rect x="562" y="234" width="38" height="14"/><text x="581" y="244.5">(12) EII</text></g>
<g id="p2-n30"><rect x="644" y="242" width="85" height="14"/><text x="686.5" y="252.5">(30) Odd Multiplier</text></g>
<g id="p2-n8"><rect x="775" y="260" width="52" height="14"/><text x="801" y="270.5">(8) Cosine</text></g>
<g id="p2-n23"><rect x="854" y="276" width="63" height="14"/><text x="885.5" y="286.5">(23) Klosgen</text></g>
<g id="p2-n7"><rect x="633" y="279" width="66" height="14"/><text x="666" y="289.5">(7) Conviction</text></g>
<g id="p2-n36"><rect x="555" y="309" width="117" height="14"/><text x="613.5" y="319.5">(36) Sebag &amp; Schoenauer</text></g>
<g id="p2-n5"><rect x="723" y="321" width="100" height="14"/><text x="773" y="331.5">(5) Collective Strength</text></g>
<g id="p2-n10"><rect x="546" y="347" width="110" height="14"/><text x="601" y="357.5">(10) Descriptive Confirm</text></g>
<g id="p2-n13"><rect x="675" y="347" width="46" height="14"/><text x="698" y="357.5">(13) EII 2</text></g>
<g id="p2-n17"><rect x="747" y="346" width="31" height="14"/><text x="762.5" y="356.5">(17) II</text></g>
<g id="p2-n31"><rect x="799" y="345" width="75" height="14"/><text x="836.5" y="355.5">(31) Odds Ratio</text></g>
<g id="p2-n19"><rect x="913" y="343" width="48" height="14"/><text x="937" y="353.5">(19) IPEE</text></g>
<g id="p2-n21"><rect x="543" y="378" width="74" height="14"/><text x="580" y="388.5">(21) J-measure</text></g>
<g id="p2-n29"><rect x="629" y="378" width="105" height="14"/><text x="681.5" y="388.5">(29) Mutual Information</text></g>
<g id="p2-n39"><rect x="747" y="379" width="61" height="14"/><text x="777.5" y="389.5">(39) Yule's Q</text></g>
<g id="p2-n40"><rect x="837" y="381" width="61" height="14"/><text x="867.5" y="391.5">(40) Yule's Y</text></g>
<g id="p2-n37"><rect x="913" y="380" width="60" height="14"/><text x="943" y="390.5">(37) Support</text></g>
</g>

<g id="p3-nodes" class="n">
<g id="p3-n1"><rect x="46" y="468" width="103" height="14"/><text x="97.5" y="478.5">(1) Causal Confidence</text></g>
<g id="p3-n24"><rect x="201" y="468" width="61" height="13"/><text x="231.5" y="478">(24) Laplace</text></g>
<g id="p3-n5"><rect x="360" y="473" width="101" height="14"/><text x="410.5" y="483.5">(5) Collective Strength</text></g>
<g id="p3-n19"><rect x="159" y="492" width="47" height="14"/><text x="182.5" y="502.5">(19) IPEE</text></g>
<g id="p3-n10"><rect x="37" y="507" width="110" height="14"/><text x="92" y="517.5">(10) Descriptive Confirm</text></g>
<g id="p3-n14"><rect x="166" y="516" width="143" height="13"/><text x="237.5" y="526">(14) Example &amp; Contra-Example</text></g>
<g id="p3-n37"><rect x="402" y="512" width="60" height="13"/><text x="432" y="522">(37) Support</text></g>
<g id="p3-n6"><rect x="112" y="533" width="71" height="13"/><text x="147.5" y="543">(6) Confidence</text></g>
<g id="p3-n9"><rect x="52" y="552" width="75" height="14"/><text x="89.5" y="562.5">(9) Dependency</text></g>
<g id="p3-n3"><rect x="159" y="549" width="153" height="14"/><text x="235.5" y="559.5">(3) Causal Confirmed-Confidence</text></g>
<g id="p3-n2"><rect x="362" y="549" width="89" height="14"/><text x="406.5" y="559.5">(2) Causal Confirm</text></g>
<g id="p3-n25"><rect x="99" y="575" width="110" height="14"/><text x="154" y="585.5">(25) Least Contradiction</text></g>
<g id="p3-n4"><rect x="360" y="577" width="88" height="14"/><text x="404" y="587.5">(4) Causal Support</text></g>
<g id="p3-n11"><rect x="107" y="600" width="173" height="14"/><text x="193.5" y="610.5">(11) Descriptive Confirmed-Confidence</text></g>
<g id="p3-n16"><rect x="37" y="618" width="70" height="14"/><text x="72" y="628.5">(16) Gini-index</text></g>
<g id="p3-n28"><rect x="354" y="628" width="68" height="14"/><text x="388" y="638.5">(28) Loevinger</text></g>
<g id="p3-n21"><rect x="249" y="650" width="74" height="13"/><text x="286" y="660">(21) J-measure</text></g>
<g id="p3-n29"><rect x="347" y="649" width="105" height="14"/><text x="399.5" y="659.5">(29) Mutual Information</text></g>
<g id="p3-n26"><rect x="146" y="658" width="61" height="14"/><text x="176.5" y="668.5">(26) Lerman</text></g>
<g id="p3-n23"><rect x="49" y="672" width="62" height="14"/><text x="80" y="682.5">(23) Klosgen</text></g>
<g id="p3-n31"><rect x="215" y="673" width="74" height="13"/><text x="252" y="683">(31) Odds Ratio</text></g>
<g id="p3-n7"><rect x="321" y="669" width="65" height="14"/><text x="353.5" y="679.5">(7) Conviction</text></g>
<g id="p3-n34"><rect x="312" y="687" width="150" height="14"/><text x="387" y="697.5">(34) Putative Causal Dependency</text></g>
<g id="p3-n18"><rect x="132" y="692" width="99" height="14"/><text x="181.5" y="702.5">(18) Implication index</text></g>
<g id="p3-n30"><rect x="233" y="707" width="84" height="14"/><text x="275" y="717.5">(30) Odd Multiplier</text></g>
<g id="p3-n39"><rect x="334" y="706" width="63" height="13"/><text x="365.5" y="716">(39) Yule's Q</text></g>
<g id="p3-n32"><rect x="61" y="715" width="61" height="14"/><text x="91.5" y="725.5">(32) Pavillon</text></g>
<g id="p3-n22"><rect x="152" y="723" width="55" height="14"/><text x="179.5" y="733.5">(22) Kappa</text></g>
<g id="p3-n27"><rect x="227" y="729" width="40" height="13"/><text x="247" y="739">(27) Lift</text></g>
<g id="p3-n33"><rect x="343" y="727" width="89" height="13"/><text x="387.5" y="737">(33) Phi-Coefficient</text></g>
<g id="p3-n17"><rect x="82" y="743" width="31" height="14"/><text x="97.5" y="753.5">(17) II</text></g>
<g id="p3-n40"><rect x="336" y="751" width="61" height="13"/><text x="366.5" y="761">(40) Yule's Y</text></g>
<g id="p3-n8"><rect x="236" y="760" width="52" height="14"/><text x="262" y="770.5">(8) Cosine</text></g>
<g id="p3-n35"><rect x="122" y="781" width="81" height="14"/><text x="162.5" y="791.5">(35) Rule Interest</text></g>
<g id="p3-n12"><rect x="314" y="795" width="38" height="13"/><text x="333" y="805">(12) EII</text></g>
<g id="p3-n13"><rect x="392" y="795" width="45" height="13"/><text x="414.5" y="805">(13) EII 2</text></g>
<g id="p3-n15"><rect x="63" y="821" width="75" height="14"/><text x="100.5" y="831.5">(15) F-measure</text></g>
<g id="p3-n20"><rect x="197" y="821" width="60" height="14"/><text x="227" y="831.5">(20) Jaccard</text></g>
<g id="p3-n36"><rect x="274" y="821" width="117" height="14"/><text x="332.5" y="831.5">(36) Sebag &amp; Schoenauer</text></g>
<g id="p3-n38"><rect x="409" y="819" width="42" height="14"/><text x="430" y="829.5">(38) TIC</text></g>
</g>

<g id="p4-nodes" class="n">
<g id="p4-n1"><rect x="552" y="474" width="100" height="13"/><text x="602" y="484">(1) Causal Confidence</text></g>
<g id="p4-n26"><rect x="796" y="466" width="58" height="13"/><text x="825" y="476">(26) Lerman</text></g>
<g id="p4-n27"><rect x="891" y="464" width="38" height="13"/><text x="910" y="474">(27) Lift</text></g>
<g id="p4-n2"><rect x="877" y="486" width="86" height="13"/><text x="920" y="496">(2) Causal Confirm</text></g>
<g id="p4-n6"><rect x="637" y="496" width="67" height="13"/><text x="670.5" y="506">(6) Confidence</text></g>
<g id="p4-n4"><rect x="875" y="508" width="85" height="14"/><text x="917.5" y="518.5">(4) Causal Support</text></g>
<g id="p4-n10"><rect x="658" y="517" width="108" height="13"/><text x="712" y="527">(10) Descriptive Confirm</text></g>
<g id="p4-n32"><rect x="552" y="523" width="58" height="14"/><text x="581" y="533.5">(32) Pavillon</text></g>
<g id="p4-n15"><rect x="808" y="524" width="73" height="14"/><text x="844.5" y="534.5">(15) F-measure</text></g>
<g id="p4-n8"><rect x="905" y="531" width="50" height="13"/><text x="930" y="541">(8) Cosine</text></g>
<g id="p4-n9"><rect x="627" y="539" width="72" height="13"/><text x="663" y="549">(9) Dependency</text></g>
<g id="p4-n19"><rect x="737" y="537" width="46" height="13"/><text x="760" y="547">(19) IPEE</text></g>
<g id="p4-n34"><rect x="574" y="563" width="144" height="13"/><text x="646" y="573">(34) Putative Causal Dependency</text></g>
<g id="p4-n20"><rect x="806" y="569" width="58" height="13"/><text x="835" y="579">(20) Jaccard</text></g>
<g id="p4-n24"><rect x="580" y="587" width="60" height="13"/><text x="610" y="597">(24) Laplace</text></g>
<g id="p4-n23"><rect x="672" y="587" width="60" height="13"/><text x="702" y="597">(23) Klosgen</text></g>
<g id="p4-n33"><rect x="870" y="601" width="87" height="13"/><text x="913.5" y="611">(33) Phi-Coefficient</text></g>
<g id="p4-n11"><rect x="546" y="617" width="168" height="13"/><text x="630" y="627">(11) Descriptive Confirmed-Confidence</text></g>
<g id="p4-n3"><rect x="623" y="642" width="147" height="14"/><text x="696.5" y="652.5">(3) Causal Confirmed-Confidence</text></g>
<g id="p4-n22"><rect x="836" y="648" width="54" height="14"/><text x="863" y="658.5">(22) Kappa</text></g>
<g id="p4-n28"><rect x="552" y="666" width="67" height="13"/><text x="585.5" y="676">(28) Loevinger</text></g>
<g id="p4-n14"><rect x="656" y="663" width="140" height="13"/><text x="726" y="673">(14) Example &amp; Contra-Example</text></g>
<g id="p4-n18"><rect x="583" y="693" width="94" height="14"/><text x="630" y="703.5">(18) Implication index</text></g>
<g id="p4-n16"><rect x="724" y="688" width="69" height="13"/><text x="758.5" y="698">(16) Gini-index</text></g>
<g id="p4-n36"><rect x="859" y="700" width="115" height="14"/><text x="916.5" y="710.5">(36) Sebag &amp; Schoenauer</text></g>
<g id="p4-n31"><rect x="757" y="722" width="72" height="13"/><text x="793" y="732">(31) Odds Ratio</text></g>
<g id="p4-n5"><rect x="547" y="746" width="99" height="13"/><text x="596.5" y="756">(5) Collective Strength</text></g>
<g id="p4-n40"><rect x="676" y="749" width="58" height="14"/><text x="705" y="759.5">(40) Yule's Y</text></g>
<g id="p4-n29"><rect x="757" y="754" width="102" height="13"/><text x="808" y="764">(29) Mutual Information</text></g>
<g id="p4-n12"><rect x="928" y="745" width="37" height="13"/><text x="946.5" y="755">(12) EII</text></g>
<g id="p4-n37"><rect x="563" y="791" width="58" height="13"/><text x="592" y="801">(37) Support</text></g>
<g id="p4-n39"><rect x="643" y="790" width="60" height="13"/><text x="673" y="800">(39) Yule's Q</text></g>
<g id="p4-n30"><rect x="719" y="789" width="82" height="13"/><text x="760" y="799">(30) Odd Multiplier</text></g>
<g id="p4-n7"><rect x="821" y="788" width="63" height="14"/><text x="852.5" y="798.5">(7) Conviction</text></g>
<g id="p4-n13"><rect x="911" y="791" width="44" height="13"/><text x="933" y="801">(13) EII 2</text></g>
<g id="p4-n17"><rect x="548" y="823" width="31" height="13"/><text x="563.5" y="833">(17) II</text></g>
<g id="p4-n21"><rect x="602" y="823" width="72" height="13"/><text x="638" y="833">(21) J-measure</text></g>
<g id="p4-n25"><rect x="697" y="821" width="106" height="13"/><text x="750" y="831">(25) Least Contradiction</text></g>
<g id="p4-n35"><rect x="818" y="820" width="79" height="14"/><text x="857.5" y="830.5">(35) Rule Interest</text></g>
<g id="p4-n38"><rect x="911" y="820" width="41" height="13"/><text x="931.5" y="830">(38) TIC</text></g>
</g>

<g id="captions">
<text class="cap" x="248" y="436">CG+ (<tspan font-style="italic">ℛ</tspan><tspan font-size="17" dy="5">1</tspan><tspan dy="-5">)</tspan></text>
<text class="cap" x="758" y="436">CG+ (<tspan font-style="italic">ℛ</tspan><tspan font-size="17" dx="3" dy="-10">′</tspan><tspan font-size="17" dx="-5" dy="15">1</tspan><tspan dy="-5">)</tspan></text>
<text class="cap" x="248" y="877">CG+ (<tspan font-style="italic">ℛ</tspan><tspan font-size="17" dy="5">2</tspan><tspan dy="-5">)</tspan></text>
<text class="cap" x="758" y="877">CG+ (<tspan font-style="italic">ℛ</tspan><tspan font-size="17" dx="3" dy="-10">′</tspan><tspan font-size="17" dx="-5" dy="15">2</tspan><tspan dy="-5">)</tspan></text>
</g>
</svg>
